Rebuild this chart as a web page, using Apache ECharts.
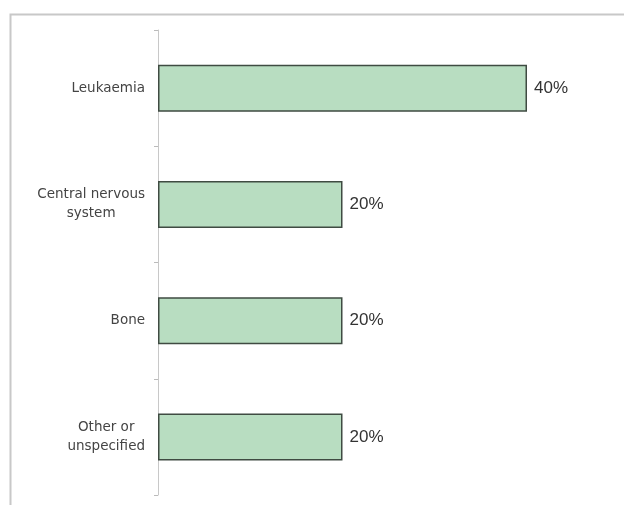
<!DOCTYPE html>
<html>
<head>
<meta charset="utf-8">
<script src="https://cdn.jsdelivr.net/npm/echarts@6/dist/echarts.min.js"></script>
<style>
    html, body {margin: 0; padding: 0; background: #fff;}
    #chartDiv {width: 624px; height: 505px;}
</style>
</head>
<body>
<div id="chartDiv"></div>
<script>
    // cancer types, top to bottom
    var categories = ['Leukaemia', 'Central nervous\nsystem', 'Bone', 'Other or\nunspecified'];
    // share of cases (%)
    var shares = [40, 20, 20, 20];

    var chart = echarts.init(document.getElementById('chartDiv'), null, {renderer: 'canvas'});

    var option = {
        animation: false,
        textStyle: {fontFamily: 'Liberation Sans, Arial, sans-serif'},
        graphic: [
            {
                // outer frame, runs off the right and bottom edges
                type: 'rect',
                left: 8, top: 12,
                shape: {width: 640, height: 520},
                style: {fill: 'none', stroke: '#c8c8c8', lineWidth: 2},
                silent: true
            }
        ],
        grid: {left: 158, top: 30, bottom: 10, right: 97},
        xAxis: {
            type: 'value',
            min: 0,
            max: 40,
            show: false
        },
        yAxis: {
            type: 'category',
            inverse: true,
            data: categories,
            axisLine: {show: true, lineStyle: {color: '#c8c8c8', width: 1}},
            axisTick: {show: true, length: 4, lineStyle: {color: '#bbb'}},
            axisLabel: {
                margin: 13,
                formatter: function (value) {
                    return value.split('\n').map(function (s) {
                        return '{c|' + s + '}';
                    }).join('\n');
                },
                rich: {
                    c: {align: 'center', fontSize: 13.5, lineHeight: 19, color: '#444', fontFamily: 'DejaVu Sans, sans-serif'}
                }
            }
        },
        series: [
            {
                type: 'bar',
                data: shares,
                barWidth: 47,
                itemStyle: {color: '#b8ddc1', borderColor: '#3f4b42', borderWidth: 1.5},
                label: {
                    show: true,
                    position: 'right',
                    distance: 7,
                    fontSize: 17,
                    color: '#333',
                    formatter: '{c}%'
                }
            }
        ]
    };
    chart.setOption(option);
</script>
</body>
</html>
